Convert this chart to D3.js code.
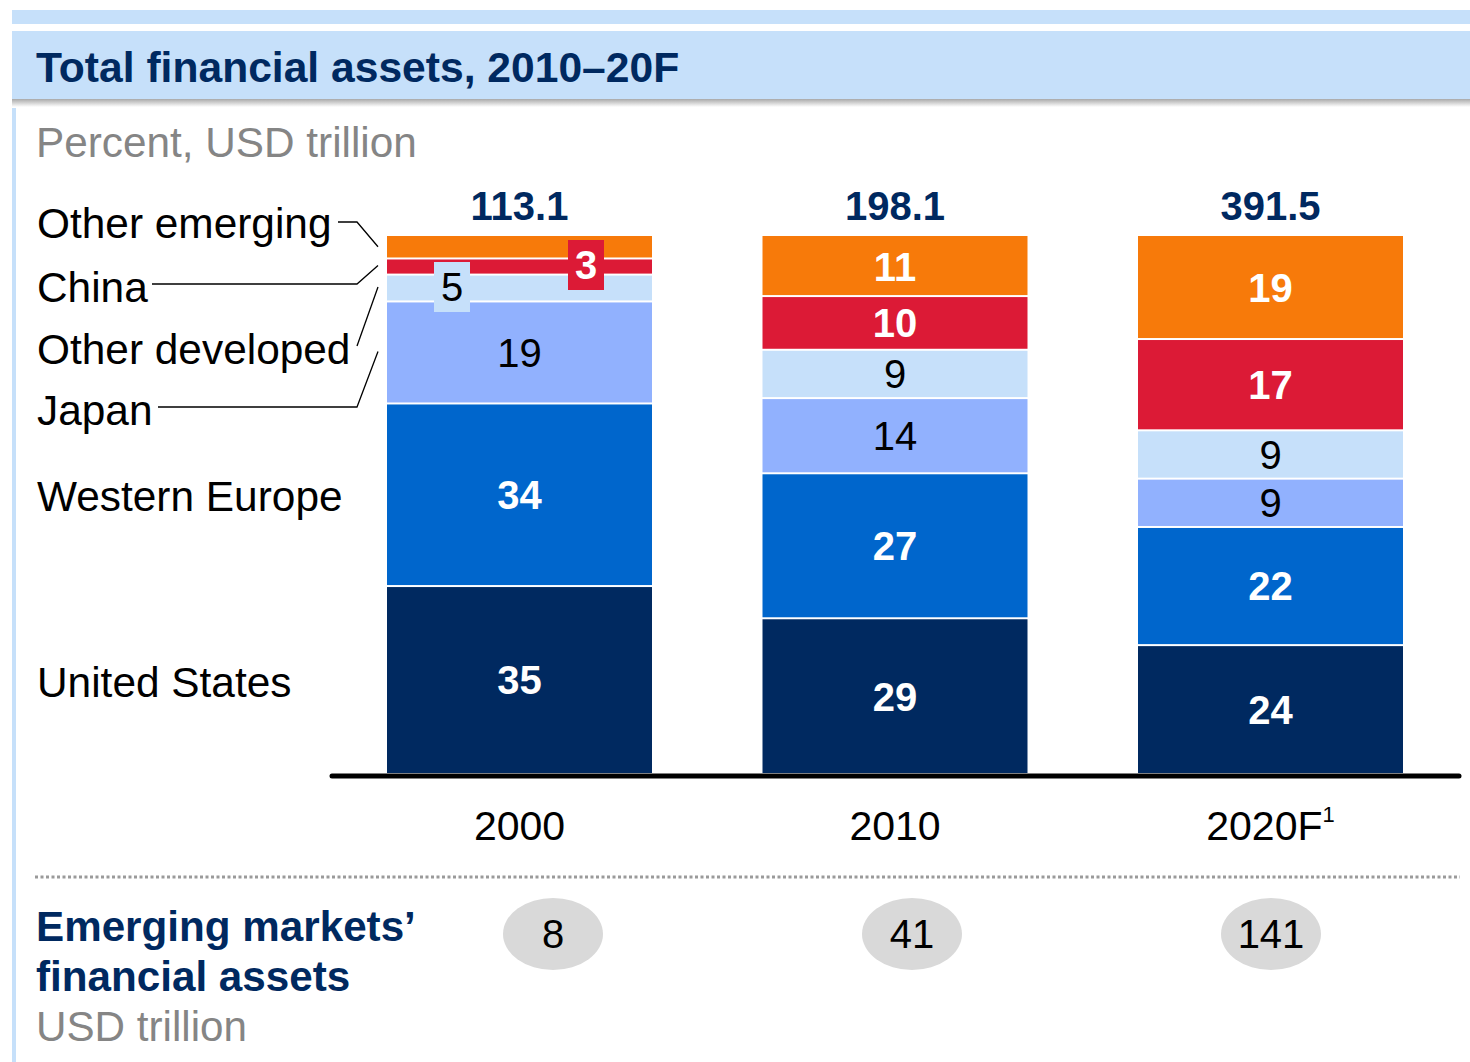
<!DOCTYPE html>
<html><head><meta charset="utf-8">
<script src="https://cdn.jsdelivr.net/npm/d3@7"></script>
<style>
html,body{margin:0;padding:0;background:#fff;}
svg{display:block;font-family:"Liberation Sans",Arial,Helvetica,sans-serif;}
</style></head>
<body><svg id="chart" width="1470" height="1062"></svg>
<script>
// ---- data ----
const years = ["2000", "2010", "2020F"];
const yearLabels = ["2000", "2010", "2020F"];
const totals = ["113.1", "198.1", "391.5"];
const series = ["United States", "Western Europe", "Japan", "Other developed", "China", "Other emerging"];
const usValues = [35, 29, 24];
const weValues = [34, 27, 22];
const japanValues = [19, 14, 9];
const otherDevValues = [5, 9, 9];
const chinaValues = [3, 10, 17];
const otherEmValues = [4, 11, 19];
const emergingAssets = [8, 41, 141];
const seriesColors = ["#002960", "#0066cc", "#91b1fe", "#c6e0fa", "#dc1a36", "#f77a0a"];
const labelBold = [true, true, false, false, true, true];
const hiddenLabels = [["2000", "Other emerging"]];

const valuesBySeries = [usValues, weValues, japanValues, otherDevValues, chinaValues, otherEmValues];

const svg = d3.select("#chart");
const navy = "#002960";
const FONT = 40;

// header bands
svg.append("rect").attr("x", 12).attr("y", 10).attr("width", 1458).attr("height", 14).attr("fill", "#c6e0fa");
const defs = svg.append("defs");
const grad = defs.append("linearGradient").attr("id", "shadow").attr("x1", 0).attr("y1", 0).attr("x2", 0).attr("y2", 1);
grad.append("stop").attr("offset", "0%").attr("stop-color", "#a9a9a9");
grad.append("stop").attr("offset", "100%").attr("stop-color", "#ffffff");
svg.append("rect").attr("x", 12).attr("y", 99).attr("width", 1458).attr("height", 8).attr("fill", "url(#shadow)");
svg.append("rect").attr("x", 12).attr("y", 31).attr("width", 1458).attr("height", 68).attr("fill", "#c6e0fa");
svg.append("rect").attr("x", 12).attr("y", 108).attr("width", 4).attr("height", 954).attr("fill", "#c6e0fa");

svg.append("text").attr("x", 36).attr("y", 82).attr("fill", navy).attr("font-weight", "bold")
  .attr("font-size", 42.6).text("Total financial assets, 2010\u201320F");
svg.append("text").attr("x", 36).attr("y", 157).attr("fill", "#858585")
  .attr("font-size", 42.3).text("Percent, USD trillion");

// scales
const x = d3.scaleBand().domain(years).range([387, 1403]).paddingInner(110.5 / 375.5).paddingOuter(0);
const y = d3.scaleLinear().domain([0, 100]).range([773, 236]);

// stacked data
const rows = years.map((yr, i) => {
  const r = { year: yr };
  series.forEach((s, j) => r[s] = valuesBySeries[j][i]);
  return r;
});
const stack = d3.stack().keys(series)(rows);

const g = svg.append("g");
stack.forEach((layer, j) => {
  layer.forEach((d) => {
    const yr = d.data.year;
    const top = y(d[1]) + (j < series.length - 1 ? 2 : 0);
    const bot = y(d[0]);
    g.append("rect")
      .attr("x", x(yr)).attr("y", top)
      .attr("width", x.bandwidth()).attr("height", Math.max(0, bot - top))
      .attr("fill", seriesColors[j]);
  });
});

// segment labels
stack.forEach((layer, j) => {
  const s = series[j];
  layer.forEach((d) => {
    const yr = d.data.year;
    if (hiddenLabels.some(h => h[0] === yr && h[1] === s)) return;
    const v = d[1] - d[0];
    const cy = (y(d[0]) + y(d[1])) / 2 + 1;
    const txtColor = labelBold[j] ? "#fff" : "#000";
    if (v < 6) {
      // small segment: callout box
      const bw = 36, bh = 50;
      const cx = s === "China" ? x(yr) + 199 : x(yr) + 65;
      const bcy = s === "China" ? 265 : 287;
      g.append("rect").attr("x", cx - bw / 2).attr("y", bcy - bh / 2)
        .attr("width", bw).attr("height", bh).attr("fill", seriesColors[j]);
      g.append("text").attr("x", cx).attr("y", bcy + FONT * 0.36)
        .attr("text-anchor", "middle").attr("font-size", FONT)
        .attr("font-weight", labelBold[j] ? "bold" : "normal")
        .attr("fill", txtColor).text(v);
    } else {
      g.append("text").attr("x", x(yr) + x.bandwidth() / 2).attr("y", cy + FONT * 0.36)
        .attr("text-anchor", "middle").attr("font-size", FONT)
        .attr("font-weight", labelBold[j] ? "bold" : "normal")
        .attr("fill", txtColor).text(v);
    }
  });
});

// totals
years.forEach((yr, i) => {
  svg.append("text").attr("x", x(yr) + x.bandwidth() / 2).attr("y", 220)
    .attr("text-anchor", "middle").attr("font-size", FONT).attr("font-weight", "bold")
    .attr("fill", navy).text(totals[i]);
});

// baseline axis
svg.append("line").attr("x1", 332).attr("x2", 1459).attr("y1", 776).attr("y2", 776)
  .attr("stroke", "#000").attr("stroke-width", 5).attr("stroke-linecap", "round");

// x labels
years.forEach((yr, i) => {
  const t = svg.append("text").attr("x", x(yr) + x.bandwidth() / 2).attr("y", 840)
    .attr("text-anchor", "middle").attr("font-size", 41).attr("fill", "#000");
  if (yr === "2020F") {
    t.text(yearLabels[i]);
    t.append("tspan").attr("font-size", 22).attr("dy", -18).text("1");
  } else t.text(yearLabels[i]);
});

// left labels with leader lines
const first = stack.map(layer => layer[0]);
const mid = j => (y(first[j][0]) + y(first[j][1])) / 2;
const leftLabels = [
  { s: 5, ty: 238, line: [[338, 222], [357, 222], [378, mid(5)]] },
  { s: 4, ty: 302, line: [[152, 284], [357, 284], [378, mid(4)]] },
  { s: 3, ty: 364, line: [[357, 346], [378, mid(3)]] },
  { s: 2, ty: 425, line: [[158, 407], [357, 407], [378, mid(2)]] },
  { s: 1, ty: mid(1) + 17, line: null },
  { s: 0, ty: mid(0) + 18, line: null }
];
leftLabels.forEach(l => {
  svg.append("text").attr("x", 37).attr("y", l.ty).attr("font-size", 42.4).attr("fill", "#000").text(series[l.s]);
  if (l.line) {
    svg.append("path").attr("d", d3.line()(l.line)).attr("fill", "none")
      .attr("stroke", "#000").attr("stroke-width", 1.3);
  }
});

// dotted separator
svg.append("line").attr("x1", 35).attr("x2", 1460).attr("y1", 877).attr("y2", 877)
  .attr("stroke", "#9a9a9a").attr("stroke-width", 3).attr("stroke-dasharray", "3,2.5");

// bottom section
svg.append("text").attr("x", 36).attr("y", 941).attr("font-size", 42.2).attr("font-weight", "bold")
  .attr("fill", navy).text("Emerging markets\u2019");
svg.append("text").attr("x", 36).attr("y", 991).attr("font-size", 42.2).attr("font-weight", "bold")
  .attr("fill", navy).text("financial assets");
svg.append("text").attr("x", 36).attr("y", 1041).attr("font-size", 42.2)
  .attr("fill", "#858585").text("USD trillion");

const xe = d3.scalePoint().domain(years).range([553, 1271]);
years.forEach((yr, i) => {
  svg.append("ellipse").attr("cx", xe(yr)).attr("cy", 934).attr("rx", 50).attr("ry", 36).attr("fill", "#d9d9d9");
  svg.append("text").attr("x", xe(yr)).attr("y", 934 + 14).attr("text-anchor", "middle")
    .attr("font-size", 40).attr("fill", "#000").text(emergingAssets[i]);
});
</script></body></html>
